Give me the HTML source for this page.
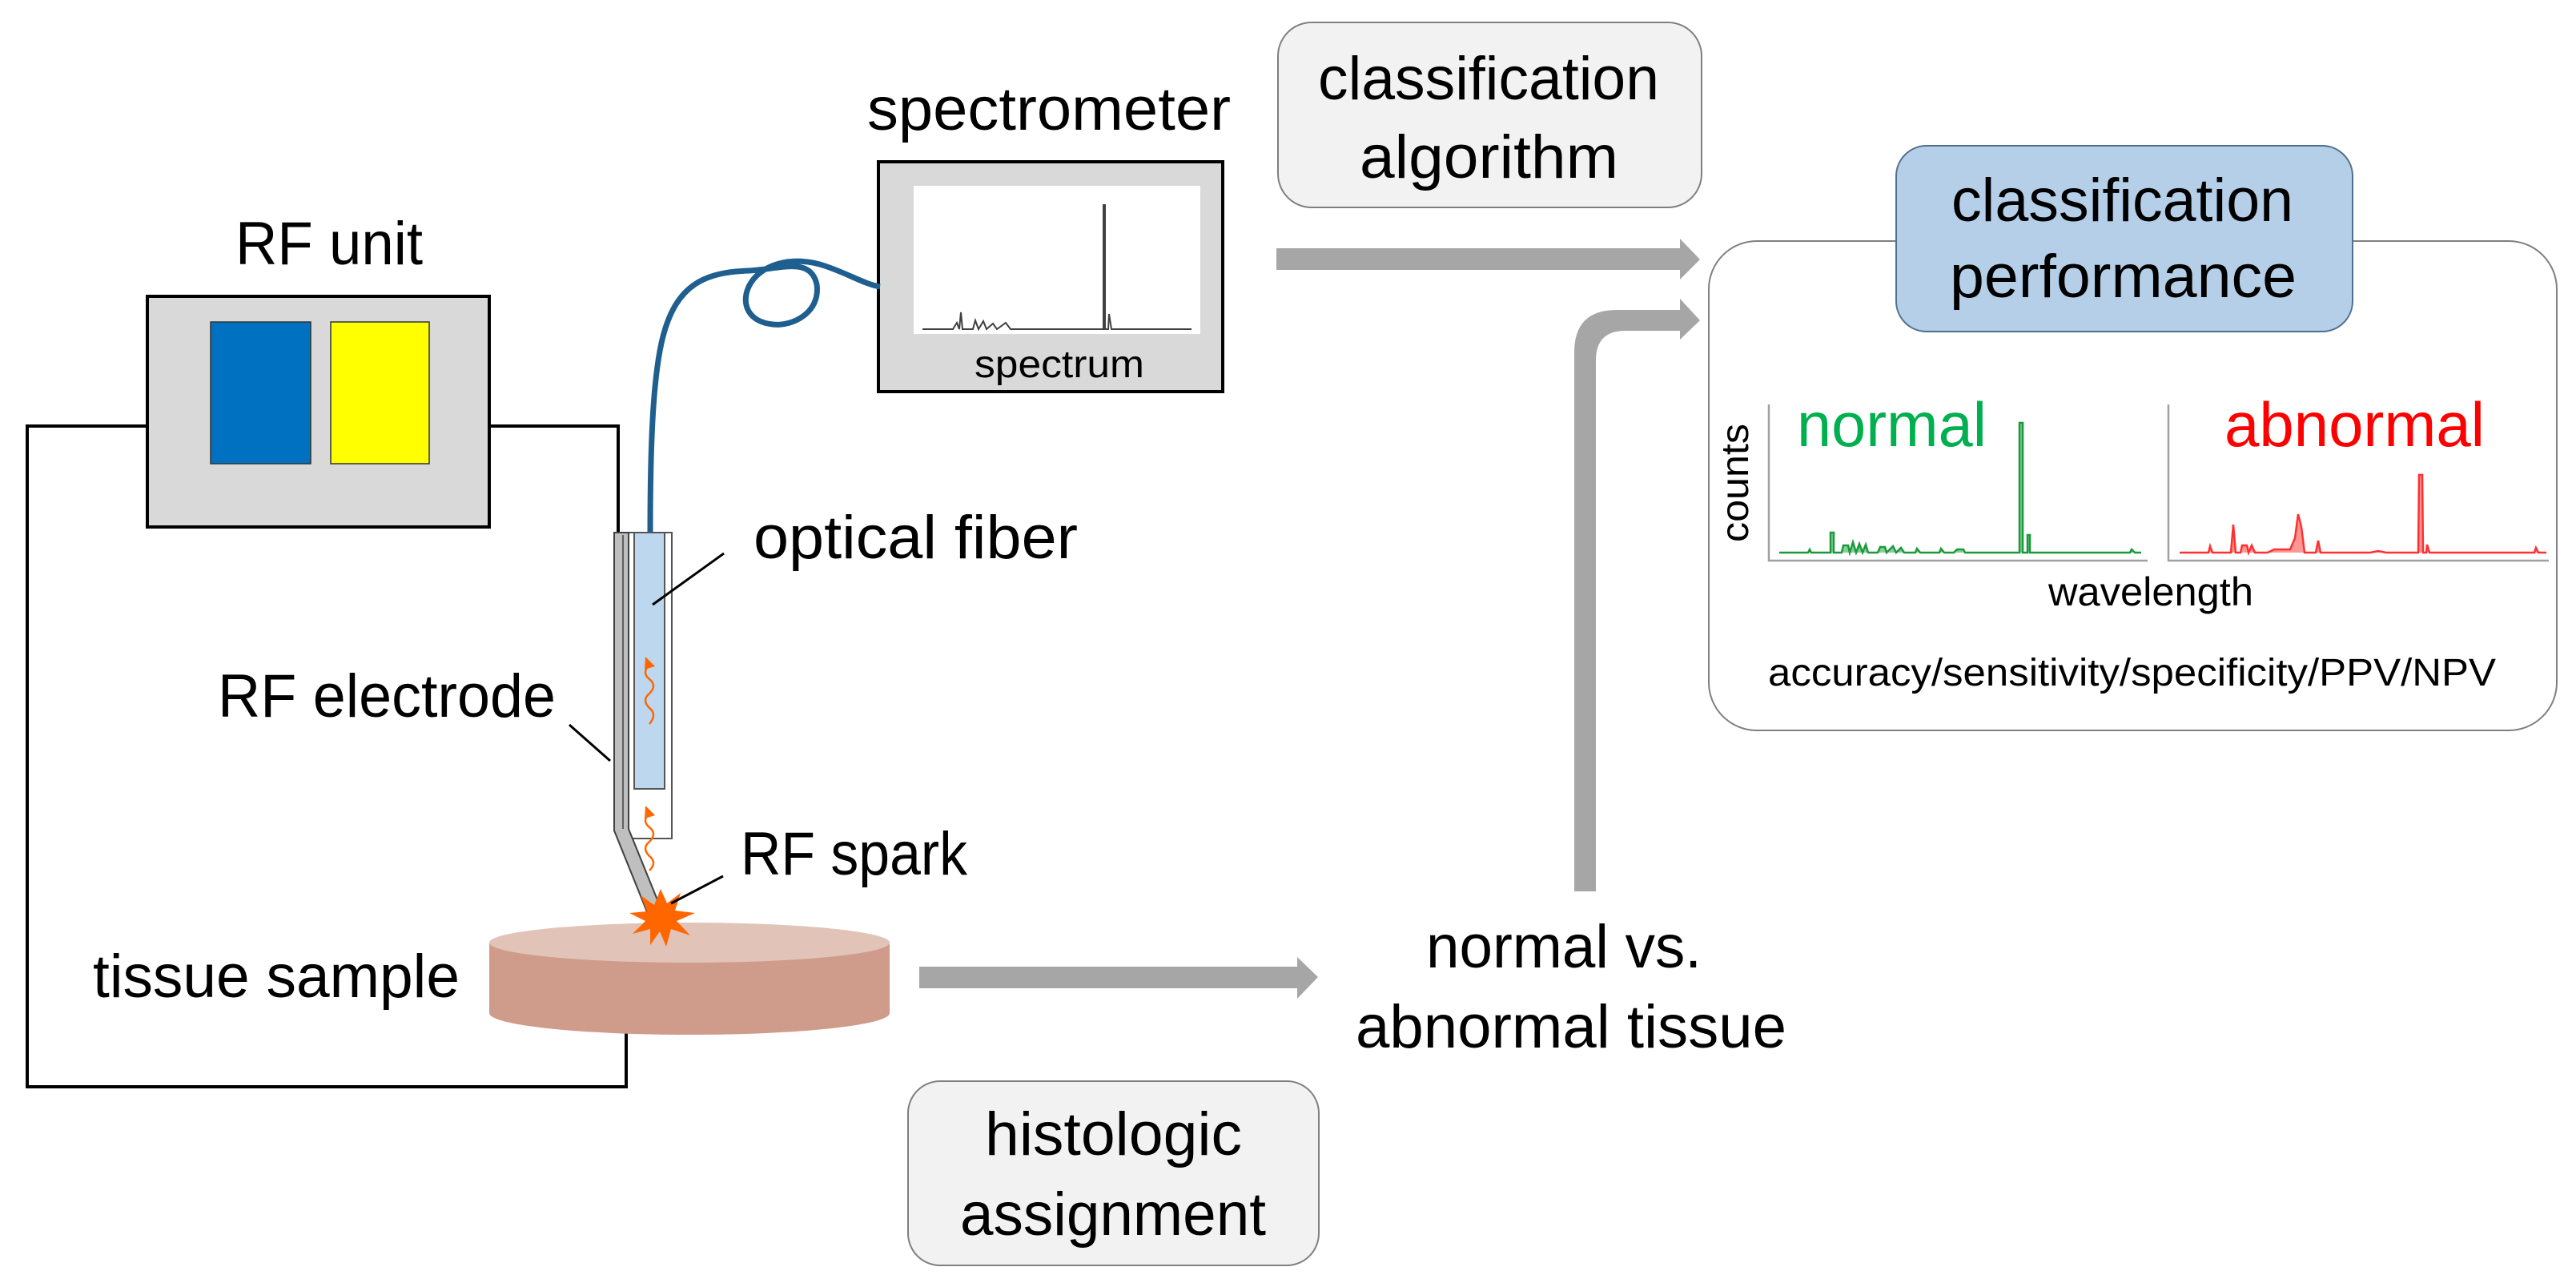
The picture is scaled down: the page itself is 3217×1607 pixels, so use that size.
<!DOCTYPE html>
<html><head><meta charset="utf-8"><style>html,body{margin:0;padding:0;background:#fff}svg{display:block}</style></head>
<body>
<svg width="3217" height="1607" viewBox="0 0 3217 1607" xmlns="http://www.w3.org/2000/svg" font-family="'Liberation Sans', sans-serif">
<!-- wires -->
<polyline points="184,532 34,532 34,1357 782,1357 782,1290" fill="none" stroke="#000" stroke-width="4"/>
<polyline points="611,532 772,532 772,666" fill="none" stroke="#000" stroke-width="4"/>
<!-- RF unit -->
<rect x="184" y="370" width="427" height="288" fill="#d9d9d9" stroke="#000" stroke-width="4"/>
<rect x="263" y="402" width="125" height="177" fill="#0070c0" stroke="#333" stroke-width="1.5"/>
<rect x="413" y="402" width="123" height="177" fill="#ffff00" stroke="#333" stroke-width="1.5"/>
<text x="294" y="330" font-size="76" textLength="234" lengthAdjust="spacingAndGlyphs">RF unit</text>
<!-- spectrometer -->
<rect x="1097" y="202" width="430" height="287" fill="#d9d9d9" stroke="#000" stroke-width="4"/>
<rect x="1141" y="232" width="358" height="185" fill="#fff"/>
<polyline points="1152,411 1190,411 1195,403 1198,411 1200,390 1202,411 1215,411 1218,400 1222,411 1228,401 1232,411 1240,404 1245,411 1256,403 1262,411 1300,411 1378,411 1378,256 1380,256 1380,411 1384,411 1385,392 1388,411 1488,411" fill="none" stroke="#404040" stroke-width="2"/>
<text x="1217" y="471" font-size="48" textLength="212" lengthAdjust="spacingAndGlyphs">spectrum</text>
<text x="1083" y="162" font-size="76" textLength="454" lengthAdjust="spacingAndGlyphs">spectrometer</text>
<!-- fiber -->
<path d="M812,666 C812,560 815,470 828,420 C845,355 880,340 935,338 C975,336 1012,320 1020,355 C1025,390 990,408 965,405 C935,402 925,380 935,358 C948,330 990,318 1030,332 C1060,342 1080,355 1099,358" fill="none" stroke="#1f5f8f" stroke-width="7"/>
<!-- electrode & fiber sheath -->
<rect x="785" y="665" width="54" height="382" fill="#fff" stroke="#555" stroke-width="2"/>
<rect x="792" y="665" width="38" height="320" fill="#bdd7ee" stroke="#555" stroke-width="2"/>
<polygon points="767,665 785,665 785,1035 826,1136 809,1141 767,1037" fill="#bfbfbf" stroke="#404040" stroke-width="2"/>
<line x1="778" y1="668" x2="778" y2="1035" stroke="#404040" stroke-width="1.5"/>
<!-- squiggles -->
<path d="M811,830 q-10,10 0,18 q10,8 0,18 q-10,8 0,18 q10,8 0,20" fill="none" stroke="#ff6600" stroke-width="2.5"/>
<polygon points="806,820 818,832 805,836" fill="#ff6600"/>
<path d="M811,1015 q-10,10 0,18 q10,8 0,18 q-10,8 0,18 q10,8 0,18" fill="none" stroke="#ff6600" stroke-width="2.5"/>
<polygon points="806,1006 818,1018 805,1022" fill="#ff6600"/>
<!-- tissue -->
<path d="M611,1177 L611,1265 A250,27 0 0 0 1111,1265 L1111,1177 Z" fill="#cf9b8a"/>
<ellipse cx="861" cy="1177" rx="250" ry="25" fill="#e2c3b8"/>
<!-- spark -->
<polygon points="825,1110 833,1128 850,1115 843,1137 868,1140 845,1150 862,1168 838,1160 832,1182 824,1163 812,1180 812,1160 790,1166 806,1150 786,1140 808,1138 800,1118 817,1130" fill="#ff6600"/>
<polygon points="785,1035 826,1136 809,1141 767,1037" fill="#bfbfbf" stroke="#404040" stroke-width="2" opacity="0"/>
<!-- leaders -->
<line x1="904" y1="691" x2="815" y2="755" stroke="#000" stroke-width="3"/>
<line x1="711" y1="905" x2="762" y2="950" stroke="#000" stroke-width="3"/>
<line x1="903" y1="1094" x2="838" y2="1128" stroke="#000" stroke-width="3"/>
<!-- labels left -->
<text x="941" y="697" font-size="76" textLength="405" lengthAdjust="spacingAndGlyphs">optical fiber</text>
<text x="272" y="895" font-size="76" textLength="422" lengthAdjust="spacingAndGlyphs">RF electrode</text>
<text x="925" y="1092" font-size="76" textLength="283" lengthAdjust="spacingAndGlyphs">RF spark</text>
<text x="116" y="1245" font-size="76" textLength="458" lengthAdjust="spacingAndGlyphs">tissue sample</text>
<!-- arrow tissue -> normal -->
<polygon points="1148,1207 1620,1207 1620,1195 1646,1220 1620,1247 1620,1234 1148,1234" fill="#a6a6a6"/>
<!-- histologic -->
<rect x="1134" y="1350" width="513" height="230" rx="40" fill="#f2f2f2" stroke="#7f7f7f" stroke-width="2"/>
<text x="1230" y="1442" font-size="76" textLength="321" lengthAdjust="spacingAndGlyphs">histologic</text>
<text x="1199" y="1542" font-size="76" textLength="382" lengthAdjust="spacingAndGlyphs">assignment</text>
<!-- normal vs abnormal -->
<text x="1781" y="1208" font-size="76" textLength="344" lengthAdjust="spacingAndGlyphs">normal vs.</text>
<text x="1693" y="1308" font-size="76" textLength="538" lengthAdjust="spacingAndGlyphs">abnormal tissue</text>
<!-- classification algorithm -->
<rect x="1596" y="28" width="529" height="231" rx="42" fill="#f2f2f2" stroke="#7f7f7f" stroke-width="2"/>
<text x="1646" y="124" font-size="76" textLength="426" lengthAdjust="spacingAndGlyphs">classification</text>
<text x="1698" y="222" font-size="76" textLength="323" lengthAdjust="spacingAndGlyphs">algorithm</text>
<!-- arrows to performance -->
<polygon points="1594,310 2098,310 2098,298 2123,324 2098,349 2098,337 1594,337" fill="#a6a6a6"/>
<path d="M1966,1113 L1966,440 Q1966,387 2019,387 L2098,387 L2098,373 L2123,400 L2098,424 L2098,413 L2030,413 Q1993,413 1993,450 L1993,1113 Z" fill="#a6a6a6"/>
<!-- performance box -->
<rect x="2134" y="301" width="1059" height="611" rx="60" fill="#fff" stroke="#7f7f7f" stroke-width="2"/>
<rect x="2368" y="182" width="570" height="232" rx="38" fill="#b4cfe7" stroke="#50708f" stroke-width="2"/>
<text x="2437" y="276" font-size="76" textLength="427" lengthAdjust="spacingAndGlyphs">classification</text>
<text x="2435" y="371" font-size="76" textLength="433" lengthAdjust="spacingAndGlyphs">performance</text>
<!-- charts -->
<polyline points="2209,505 2209,700 2682,700" fill="none" stroke="#a0a0a0" stroke-width="2.5"/>
<polyline points="2708,505 2708,700 3183,700" fill="none" stroke="#a0a0a0" stroke-width="2.5"/>
<polyline points="2222,690 2258,690 2260,686 2262,690 2286,690 2286,665 2290,665 2290,690 2300,690 2302,681 2308,681 2310,690 2314,677 2318,690 2322,679 2326,690 2330,680 2333,690 2345,690 2348,683 2354,683 2356,690 2364,682 2368,690 2374,684 2378,690 2392,690 2394,685 2398,690 2422,690 2424,685 2428,690 2440,690 2444,686 2452,686 2454,690 2522,690 2522,528 2526,528 2526,690 2532,690 2532,668 2535,668 2535,690 2660,690 2662,686 2666,690 2674,690" fill="#1a9a3a" stroke="#1a9a3a" stroke-width="2.5" fill-opacity="0.5"/>
<polyline points="2722,690 2758,690 2760,682 2763,690 2786,690 2789,655 2792,690 2798,690 2800,681 2806,681 2808,690 2812,681 2816,690 2832,690 2840,686 2860,686 2866,672 2870,642 2874,658 2878,690 2892,690 2895,675 2898,690 2960,690 2970,688 2980,690 3020,690 3021,593 3025,593 3026,690 3030,690 3031,680 3034,690 3165,690 3167,684 3170,690 3180,690" fill="#ff3030" stroke="#ff3030" stroke-width="2.5" fill-opacity="0.5"/>
<text x="2244" y="557" font-size="78" fill="#00b050" textLength="237" lengthAdjust="spacingAndGlyphs">normal</text>
<text x="2778" y="557" font-size="78" fill="#ff0000" textLength="325" lengthAdjust="spacingAndGlyphs">abnormal</text>
<text transform="translate(2183,677) rotate(-90)" font-size="48" textLength="148" lengthAdjust="spacingAndGlyphs">counts</text>
<text x="2558" y="756" font-size="50" textLength="256" lengthAdjust="spacingAndGlyphs">wavelength</text>
<text x="2208" y="856" font-size="48" textLength="909" lengthAdjust="spacingAndGlyphs">accuracy/sensitivity/specificity/PPV/NPV</text>
</svg>
</body></html>
